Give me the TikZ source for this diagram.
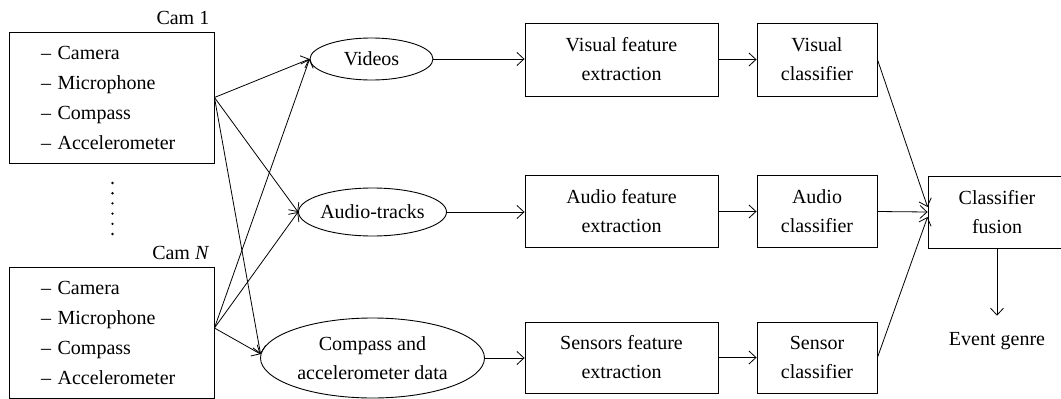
\documentclass[tikz,border=0pt]{standalone}
\usepackage{fontspec}
\setmainfont{Liberation Serif}
\usetikzlibrary{arrows.meta,shapes.geometric,calc}

\begin{document}
\begin{tikzpicture}[x=1pt,y=-1pt,
  every node/.style={font=\fontsize{20}{29}\selectfont},
  arr/.style={line width=0.8pt,-{Straight Barb[length=7pt,width=13pt,line width=0.8pt]}},
  blk/.style={draw,line width=0.9pt,rectangle,align=center,inner sep=0pt,minimum height=73pt},
  oval/.style={draw,line width=0.9pt,ellipse,align=center,inner sep=0pt},
  cambox/.style={draw,line width=0.9pt,align=left,text width=141pt,inner xsep=32pt,
    inner ysep=0pt,minimum height=131pt,font=\fontsize{20}{30}\selectfont}
]
\useasboundingbox (0,0) rectangle (1061,399);
\clip (0,0) rectangle (1061,399);

% camera devices
\node[cambox] (cam1) at (111.5,97.5) {– Camera\\– Microphone\\– Compass\\– Accelerometer};
\node[cambox] (camN) at (111.5,333) {– Camera\\– Microphone\\– Compass\\– Accelerometer};
\node[anchor=base east,inner sep=0pt] (lab1) at (209.5,24) {Cam 1};
\node[anchor=base east,inner sep=0pt] (labN) at (209.5,259) {Cam \textit{N}};
\foreach \i in {0,...,5} \fill (112.5,{183+10.2*\i}) circle (1.3pt);

% data streams
\node[oval,minimum width=123pt,minimum height=42pt] (vid) at (371.5,59) {Videos};
\node[oval,minimum width=148pt,minimum height=48pt] (aud) at (372.5,212) {Audio-tracks};
\node[oval,minimum width=224pt,minimum height=80pt] (cmp) at (372.5,358) {Compass and\\accelerometer data};

% feature extraction
\node[blk,minimum width=193pt] (vfe) at (621.5,59.5) {Visual feature\\extraction};
\node[blk,minimum width=193pt,minimum height=72pt] (afe) at (621.5,211.5) {Audio feature\\extraction};
\node[blk,minimum width=193pt,minimum height=71pt] (sfe) at (621.5,357.5) {Sensors feature\\extraction};

% classifiers
\node[blk,minimum width=120pt] (vcl) at (817,59.5) {Visual\\classifier};
\node[blk,minimum width=120pt,minimum height=72pt] (acl) at (817,211.5) {Audio\\classifier};
\node[blk,minimum width=120pt,minimum height=71pt] (scl) at (817,357.5) {Sensor\\classifier};

% fusion and output
\node[blk,minimum width=138pt,minimum height=72pt] (fus) at (997,212) {Classifier\\fusion};
\node[anchor=base,inner sep=0pt] (gen) at (997,345) {Event genre};

% connectors from the cameras
\coordinate (cN) at ($(camN.east)+(0,-5)$);
\draw[arr] (cam1.east) -- (vid.west);
\draw[arr] (cam1.east) -- (aud.west);
\draw[arr] (cam1.east) -- (cmp.178);
\draw[arr] (cN) -- (vid.west);
\draw[arr] (cN) -- (aud.west);
\draw[arr] (cN) -- (cmp.178);

% pipelines
\draw[arr] (vid.east) -- (vid.east -| vfe.west);
\draw[arr] (aud.east) -- (aud.east -| afe.west);
\draw[arr] (cmp.east) -- (cmp.east -| sfe.west);
\draw[arr] (vfe.east) -- (vcl.west);
\draw[arr] (afe.east) -- (acl.west);
\draw[arr] (sfe.east) -- (scl.west);

% into the fusion block
\coordinate (f1) at ($(fus.west)+(0,-5)$);
\coordinate (f3) at ($(fus.west)+(0,5)$);
\draw[arr] (vcl.east) -- (f1);
\draw[arr] (acl.east) -- (fus.west);
\draw[arr] (scl.east) -- (f3);
\draw[arr,shorten >=16pt] (fus.south) -- (gen.north);
\end{tikzpicture}
\end{document}
